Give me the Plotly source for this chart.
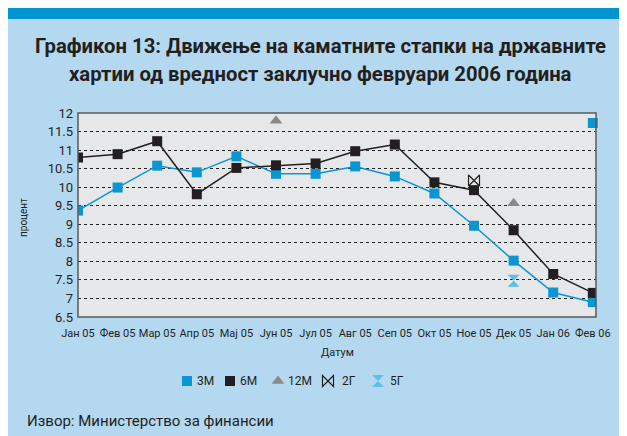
import plotly.graph_objects as go

months = ["Јан 05", "Фев 05", "Мар 05", "Апр 05", "Мај 05", "Јун 05", "Јул 05",
          "Авг 05", "Сеп 05", "Окт 05", "Ное 05", "Дек 05", "Јан 06", "Фев 06"]
m3 = [9.37, 9.99, 10.58, 10.40, 10.83, 10.36, 10.36, 10.56, 10.29, 9.83, 8.96, 8.02, 7.16, 6.90]
m6 = [10.80, 10.89, 11.24, 9.81, 10.52, 10.59, 10.64, 10.97, 11.15, 10.13, 9.92, 8.84, 7.66, 7.15]
m3_extra_x = ["Фев 06"]
m3_extra_y = [11.73]
m12_x = ["Јун 05", "Дек 05"]
m12_y = [11.79, 9.57]
y2_x = ["Ное 05"]
y2_y = [10.18]
y5_x = ["Дек 05"]
y5_y = [7.48]
yticks = [6.5, 7, 7.5, 8, 8.5, 9, 9.5, 10, 10.5, 11, 11.5, 12]
legend_names = ["3M", "6M", "12M", "2Г", "5Г"]

FONT = "Roboto, Liberation Sans, sans-serif"
TXT = "#231f20"
BLUE = "#0a95d3"
BLACK = "#231f20"
GRAY = "#8a8a8a"
LBLUE = "#5bbfe8"
PANEL = "#b4d8f0"
BAND = "#0095d1"

idx = {m: i for i, m in enumerate(months)}
def xi(lst):
    return [idx[m] for m in lst]

OFF = 8  # page body margin
W, H = 627 - OFF, 436 - OFF
L, R, T, B = 78 - OFF, 627 - 596, 113 - OFF, 436 - 317
pw, ph = W - L - R, H - T - B
def px(x):  # reference page pixel -> paper
    return (x - OFF - L) / pw
def py(y):
    return (H - B - (y - OFF)) / ph

fig = go.Figure()
fig.add_trace(go.Scatter(x=list(range(len(months))), y=m3, mode="lines+markers",
                         line=dict(color=BLUE, width=1.5),
                         marker=dict(symbol="square", size=10, color=BLUE),
                         showlegend=False))
fig.add_trace(go.Scatter(x=list(range(len(months))), y=m6, mode="lines+markers",
                         line=dict(color=BLACK, width=1.5),
                         marker=dict(symbol="square", size=10, color=BLACK),
                         showlegend=False))
fig.add_trace(go.Scatter(x=xi(m3_extra_x), y=m3_extra_y, mode="markers",
                         marker=dict(symbol="square", size=10, color=BLUE),
                         showlegend=False, cliponaxis=False))
fig.add_trace(go.Scatter(x=xi(m12_x), y=m12_y, mode="markers",
                         marker=dict(symbol="triangle-up", size=11, color=GRAY),
                         showlegend=False))
fig.add_trace(go.Scatter(x=xi(y2_x), y=y2_y, mode="markers",
                         marker=dict(symbol="bowtie-open", size=11, color=BLACK,
                                     line=dict(width=1.2, color=BLACK)),
                         showlegend=False))
fig.add_trace(go.Scatter(x=xi(y5_x), y=y5_y, mode="markers",
                         marker=dict(symbol="hourglass", size=12, color=LBLUE),
                         showlegend=False))

# legend markers (separate legends for exact placement), labels as annotations
leg_markers = [
    dict(symbol="square", size=10, color=BLUE),
    dict(symbol="square", size=10, color=BLACK),
    dict(symbol="triangle-up", size=11, color=GRAY),
    dict(symbol="bowtie-open", size=11, color=BLACK, line=dict(width=1.2, color=BLACK)),
    dict(symbol="hourglass", size=12, color=LBLUE),
]
leg_centers = [187, 230, 278, 328, 378]
leg_text_x = [195, 238, 286, 340, 388]
legend_layouts = {}
for k, mk in enumerate(leg_markers):
    lname = "legend" if k == 0 else f"legend{k+1}"
    fig.add_trace(go.Scatter(x=[None], y=[None], mode="markers", name=" ",
                             marker=mk, legend=lname, showlegend=True))
    legend_layouts[lname] = dict(x=px(leg_centers[k] - 20), y=py(381), xanchor="left",
                                 yanchor="middle", bgcolor="rgba(0,0,0,0)", itemwidth=30,
                                 borderwidth=0, font=dict(family=FONT, size=12, color=TXT))

shapes = [
    dict(type="rect", xref="paper", yref="paper", x0=px(OFF), x1=px(640), y0=py(450), y1=py(7),
         fillcolor=PANEL, line=dict(width=0), layer="below"),
    dict(type="rect", xref="paper", yref="paper", x0=px(OFF), x1=px(640), y0=py(19), y1=py(7),
         fillcolor=BAND, line=dict(width=0), layer="below"),
    dict(type="rect", xref="paper", yref="paper", x0=0, x1=1, y0=0, y1=1,
         fillcolor="#e6e7e9", line=dict(width=0), layer="below"),
    dict(type="rect", xref="paper", yref="paper", x0=0, x1=1, y0=0, y1=1,
         fillcolor="rgba(0,0,0,0)", line=dict(width=1.5, color="#5a5a5a"), layer="above"),
]

annotations = [
    dict(text="<b>Графикон 13: Движење на каматните стапки на државните</b>", x=px(320), y=py(46),
         xref="paper", yref="paper", showarrow=False, xanchor="center", yanchor="middle",
         font=dict(family=FONT, size=20.3, color=TXT)),
    dict(text="<b>хартии од вредност заклучно февруари 2006 година</b>", x=px(320), y=py(74),
         xref="paper", yref="paper", showarrow=False, xanchor="center", yanchor="middle",
         font=dict(family=FONT, size=20.3, color=TXT)),
    dict(text="процент", x=px(23), y=py(218), xref="paper", yref="paper", showarrow=False,
         textangle=-90, xanchor="center", yanchor="middle",
         font=dict(family=FONT, size=10, color=TXT)),
    dict(text="Датум", x=px(337), y=py(352), xref="paper", yref="paper", showarrow=False,
         xanchor="center", yanchor="middle", font=dict(family=FONT, size=11, color=TXT)),
    dict(text="Извор: Министерство за финансии", x=px(25), y=py(421), xref="paper", yref="paper",
         showarrow=False, xanchor="left", yanchor="middle",
         font=dict(family=FONT, size=15, color=TXT)),
]
for k, name in enumerate(legend_names):
    annotations.append(dict(text=name, x=px(leg_text_x[k]), y=py(381), xref="paper", yref="paper",
                            showarrow=False, xanchor="left", yanchor="middle",
                            font=dict(family=FONT, size=12, color=TXT)))

fig.update_layout(
    width=W, height=H,
    margin=dict(l=L, r=R, t=T, b=B, pad=0),
    paper_bgcolor="white", plot_bgcolor="rgba(0,0,0,0)",
    shapes=shapes, annotations=annotations,
    font=dict(family=FONT, color=TXT),
    **legend_layouts,
)
fig.update_xaxes(range=[0, 13.08], tickmode="array", tickvals=list(range(len(months))),
                 ticktext=months, showgrid=False, zeroline=False, ticks="", tickangle=0,
                 tickfont=dict(family=FONT, size=11, color=TXT), ticklabelstandoff=8)
fig.update_yaxes(range=[6.5, 12], tickmode="array", tickvals=yticks,
                 ticktext=[f"{v:g}" for v in yticks], showgrid=True, gridcolor="#222222",
                 griddash="dot", gridwidth=1, zeroline=False, ticks="",
                 tickfont=dict(family=FONT, size=13, color=TXT), ticklabelstandoff=4)

fig.write_html("out.html")
